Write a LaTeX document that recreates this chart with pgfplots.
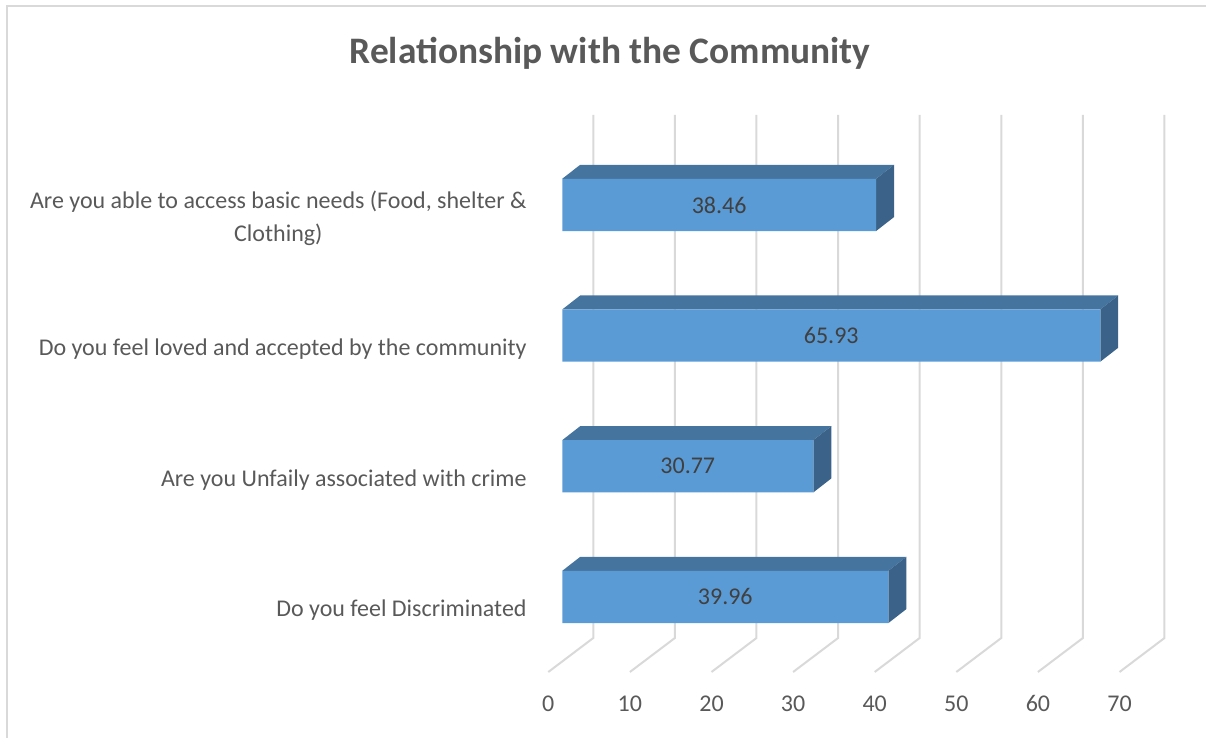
\documentclass[border=0pt]{standalone}
\usepackage{pgfplots}
\pgfplotsset{compat=1.18}
\usepackage{fontspec}
\setmainfont{Carlito}
\definecolor{frontc}{HTML}{5B9BD5}
\definecolor{topc}{HTML}{45759F}
\definecolor{sidec}{HTML}{3B6389}
\definecolor{gridc}{HTML}{D9D9D9}
\definecolor{labc}{HTML}{595959}
\definecolor{valc}{HTML}{404040}
\begin{document}
\begin{tikzpicture}
\path[use as bounding box] (0,0) rectangle (603pt,369pt);
\draw[gridc, line width=0.9pt] (3.5pt,0) -- (3.5pt,366pt) -- (603pt,366pt);
\node[font=\bfseries\fontsize{18.7}{22}\selectfont, text=labc] at (305pt,342.5pt) {Relationship with the Community};
\begin{axis}[
  at={(274.15pt,33pt)}, anchor=south west,
  scale only axis, width=308.1pt, height=278.5pt,
  xmin=-1.71, xmax=73.8, ymin=-0.574, ymax=3.688,
  clip=false,
  axis line style={draw=none}, tick style={draw=none},
  major tick length=0pt,
  xtick={-1.71,8.29,18.29,28.29,38.29,48.29,58.29,68.29},
  xticklabels={0,10,20,30,40,50,60,70},
  xticklabel style={anchor=base, yshift=-19.8pt, text=labc, font=\fontsize{12}{14}\selectfont},
  ytick={0,1,2,3},
  yticklabels={Do you feel Discriminated, Are you Unfaily associated with crime, Do you feel loved and accepted by the community, {Are you able to access basic needs (Food, shelter \&\\Clothing)}},
  yticklabel style={anchor=east, align=center, inner sep=0pt, xshift=-10.65pt, yshift=-6.8pt, text=labc, font=\fontsize{12}{16.5}\selectfont},
]
% back-wall gridlines and floor lines
\addplot[gridc, line width=1pt] coordinates {(3.8,3.688) (3.8,-0.314) (-1.71,-0.574)};
\addplot[gridc, line width=1pt] coordinates {(13.8,3.688) (13.8,-0.314) (8.29,-0.574)};
\addplot[gridc, line width=1pt] coordinates {(23.8,3.688) (23.8,-0.314) (18.29,-0.574)};
\addplot[gridc, line width=1pt] coordinates {(33.8,3.688) (33.8,-0.314) (28.29,-0.574)};
\addplot[gridc, line width=1pt] coordinates {(43.8,3.688) (43.8,-0.314) (38.29,-0.574)};
\addplot[gridc, line width=1pt] coordinates {(53.8,3.688) (53.8,-0.314) (48.29,-0.574)};
\addplot[gridc, line width=1pt] coordinates {(63.8,3.688) (63.8,-0.314) (58.29,-0.574)};
\addplot[gridc, line width=1pt] coordinates {(73.8,3.688) (73.8,-0.314) (68.29,-0.574)};
% top faces
\addplot[fill=topc, draw=none] coordinates {(0,0.2) (39.96,0.2) (42.16,0.307) (2.2,0.307)} --cycle;
\addplot[fill=topc, draw=none] coordinates {(0,1.2) (30.77,1.2) (32.97,1.307) (2.2,1.307)} --cycle;
\addplot[fill=topc, draw=none] coordinates {(0,2.2) (65.93,2.2) (68.13,2.307) (2.2,2.307)} --cycle;
\addplot[fill=topc, draw=none] coordinates {(0,3.2) (38.46,3.2) (40.66,3.307) (2.2,3.307)} --cycle;
% side faces
\addplot[fill=sidec, draw=none] coordinates {(39.96,-0.2) (42.16,-0.093) (42.16,0.307) (39.96,0.2)} --cycle;
\addplot[fill=sidec, draw=none] coordinates {(30.77,0.8) (32.97,0.907) (32.97,1.307) (30.77,1.2)} --cycle;
\addplot[fill=sidec, draw=none] coordinates {(65.93,1.8) (68.13,1.907) (68.13,2.307) (65.93,2.2)} --cycle;
\addplot[fill=sidec, draw=none] coordinates {(38.46,2.8) (40.66,2.907) (40.66,3.307) (38.46,3.2)} --cycle;
% front faces
\addplot[xbar, bar width=0.4, fill=frontc, draw=none] coordinates {(39.96,0) (30.77,1) (65.93,2) (38.46,3)};
% value labels
\addplot[draw=none, mark=none, nodes near coords, point meta=explicit symbolic,
  every node near coord/.append style={anchor=center, text=valc, font=\fontsize{12}{14}\selectfont}]
  coordinates {(19.98,0) [39.96] (15.385,1) [30.77] (32.965,2) [65.93] (19.23,3) [38.46]};
\end{axis}
\end{tikzpicture}
\end{document}
